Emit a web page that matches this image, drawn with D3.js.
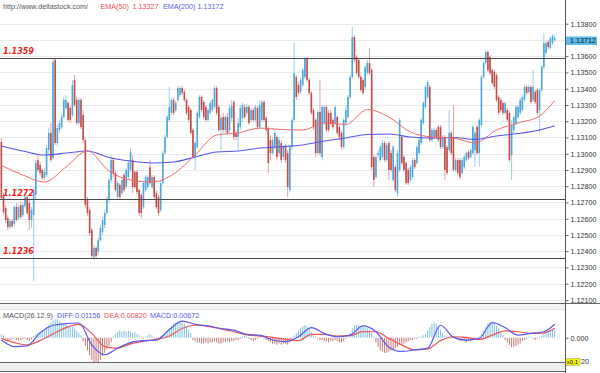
<!DOCTYPE html>
<html><head><meta charset="utf-8">
<script src="https://cdn.jsdelivr.net/npm/d3@7"></script>
<style>body{margin:0;background:#fff}svg{display:block}</style>
</head><body>
<svg id="c" width="600" height="373"></svg>
<script>
// [open, high, low, close]
const ohlc = [
[1.13072,1.13097,1.12715,1.12728],[1.12746,1.12758,1.12629,1.12641],[1.12666,1.12684,1.12574,1.12592],[1.12604,1.12623,1.12531,1.12549],
[1.12549,1.12598,1.12537,1.12586],[1.12586,1.12598,1.12543,1.12555],[1.12568,1.12684,1.12555,1.12672],[1.12672,1.12697,1.12580,1.12592],
[1.12604,1.12691,1.12592,1.12672],[1.12684,1.12709,1.12598,1.12611],[1.12623,1.12697,1.12611,1.12684],[1.12678,1.12752,1.12666,1.12734],
[1.12734,1.12746,1.12623,1.12635],[1.12697,1.12728,1.12531,1.12592],[1.12592,1.12672,1.12543,1.12654],[1.12623,1.12795,1.12217,1.12777],
[1.12746,1.12961,1.12715,1.12943],[1.12961,1.12992,1.12888,1.12900],[1.12931,1.12949,1.12863,1.12881],[1.12900,1.12912,1.12838,1.12851],
[1.12851,1.12912,1.12838,1.12888],[1.12869,1.13054,1.12857,1.13035],[1.13023,1.13158,1.12992,1.13128],[1.13128,1.13189,1.12949,1.12961],
[1.12974,1.13589,1.12961,1.13564],[1.13577,1.13589,1.13054,1.13066],[1.13066,1.13177,1.13048,1.13158],[1.13146,1.13208,1.13128,1.13189],
[1.13164,1.13244,1.13152,1.13226],[1.13226,1.13349,1.13214,1.13331],[1.13281,1.13361,1.13269,1.13331],[1.13312,1.13324,1.13195,1.13208],
[1.13281,1.13294,1.13189,1.13208],[1.13238,1.13454,1.13226,1.13423],[1.13454,1.13484,1.13288,1.13300],[1.13331,1.13349,1.13177,1.13189],
[1.13189,1.13343,1.13177,1.13331],[1.13331,1.13343,1.13152,1.13164],[1.13238,1.13269,1.13066,1.13084],[1.13084,1.13097,1.12666,1.12684],
[1.12715,1.12734,1.12617,1.12635],[1.12654,1.12672,1.12494,1.12512],[1.12531,1.12543,1.12358,1.12371],[1.12364,1.12438,1.12346,1.12420],
[1.12420,1.12432,1.12358,1.12371],[1.12395,1.12488,1.12377,1.12469],[1.12469,1.12561,1.12457,1.12543],[1.12518,1.12611,1.12500,1.12592],
[1.12561,1.12654,1.12543,1.12635],[1.12635,1.12740,1.12623,1.12715],[1.12715,1.12851,1.12697,1.12838],[1.12838,1.12992,1.12820,1.12961],
[1.12961,1.12980,1.12857,1.12881],[1.12881,1.12894,1.12764,1.12777],[1.12734,1.12832,1.12721,1.12820],[1.12808,1.12820,1.12721,1.12734],
[1.12758,1.12851,1.12746,1.12838],[1.12869,1.12881,1.12764,1.12777],[1.12795,1.12912,1.12783,1.12900],[1.12857,1.12961,1.12844,1.12943],
[1.12900,1.13035,1.12888,1.13011],[1.12961,1.12992,1.12758,1.12795],[1.12888,1.12900,1.12783,1.12795],[1.12888,1.12900,1.12752,1.12764],
[1.12777,1.12789,1.12617,1.12635],[1.12746,1.12758,1.12604,1.12635],[1.12672,1.12832,1.12660,1.12820],[1.12777,1.12869,1.12764,1.12857],
[1.12795,1.12869,1.12783,1.12857],[1.12918,1.12961,1.12808,1.12820],[1.12795,1.12869,1.12783,1.12857],[1.12857,1.12869,1.12721,1.12734],
[1.12758,1.12771,1.12660,1.12672],[1.12734,1.12746,1.12617,1.12635],[1.12654,1.12832,1.12641,1.12820],[1.12820,1.13017,1.12808,1.13004],
[1.13004,1.13115,1.12992,1.13103],[1.13103,1.13238,1.13091,1.13226],[1.13208,1.13411,1.13195,1.13288],[1.13251,1.13343,1.13238,1.13331],
[1.13331,1.13343,1.13238,1.13251],[1.13269,1.13324,1.13257,1.13312],[1.13331,1.13417,1.13318,1.13404],[1.13361,1.13417,1.13349,1.13404],
[1.13404,1.13417,1.13361,1.13374],[1.13380,1.13392,1.13318,1.13331],[1.13331,1.13343,1.13238,1.13251],[1.13288,1.13300,1.13195,1.13208],
[1.13269,1.13281,1.13115,1.13128],[1.13146,1.13158,1.12968,1.12980],[1.12980,1.13078,1.12900,1.13066],[1.13041,1.13263,1.13029,1.13251],
[1.13226,1.13361,1.13214,1.13349],[1.13349,1.13361,1.13257,1.13269],[1.13318,1.13331,1.13214,1.13226],[1.13288,1.13300,1.13195,1.13208],
[1.13208,1.13281,1.13195,1.13269],[1.13251,1.13324,1.13238,1.13312],[1.13269,1.13343,1.13257,1.13331],[1.13288,1.13417,1.13275,1.13404],
[1.13404,1.13417,1.13238,1.13251],[1.13288,1.13300,1.13134,1.13146],
[1.13146,1.13238,1.13023,1.13220],[1.13226,1.13251,1.13128,1.13146],[1.13146,1.13238,1.13128,1.13226],[1.13226,1.13251,1.13115,1.13128],
[1.13146,1.13300,1.13128,1.13281],[1.13220,1.13331,1.13195,1.13294],[1.13318,1.13331,1.13084,1.13103],[1.13128,1.13146,1.13084,1.13103],
[1.13103,1.13220,1.13023,1.13189],[1.13164,1.13300,1.13146,1.13281],[1.13220,1.13312,1.13195,1.13300],[1.13288,1.13306,1.13214,1.13226],
[1.13251,1.13306,1.13238,1.13288],[1.13288,1.13300,1.13177,1.13189],[1.13208,1.13281,1.13195,1.13269],[1.13269,1.13281,1.13195,1.13208],
[1.13208,1.13300,1.13195,1.13288],[1.13281,1.13294,1.13152,1.13164],[1.13164,1.13331,1.13152,1.13300],[1.13208,1.13331,1.13195,1.13318],
[1.13318,1.13331,1.13195,1.13208],[1.13220,1.13232,1.13134,1.13146],[1.13158,1.13171,1.12881,1.12943],[1.13084,1.13115,1.12961,1.13004],
[1.13004,1.13103,1.12992,1.13084],[1.13041,1.13146,1.13023,1.13128],[1.13103,1.13115,1.12961,1.12980],[1.13004,1.13103,1.12986,1.13084],
[1.13066,1.13084,1.12943,1.12961],[1.12980,1.13054,1.12961,1.13041],[1.13041,1.13060,1.12943,1.12961],[1.13004,1.13023,1.12734,1.12795],
[1.12777,1.13054,1.12764,1.13041],[1.13041,1.13220,1.13023,1.13208],[1.13208,1.13681,1.13195,1.13497],[1.13472,1.13484,1.13331,1.13349],
[1.13423,1.13441,1.13361,1.13374],[1.13380,1.13466,1.13368,1.13454],[1.13423,1.13528,1.13411,1.13515],[1.13472,1.13595,1.13460,1.13589],
[1.13589,1.13595,1.13441,1.13454],[1.13454,1.13466,1.13361,1.13374],[1.13374,1.13386,1.13238,1.13251],[1.13269,1.13281,1.13146,1.13164],
[1.13208,1.13220,1.12980,1.13004],[1.13004,1.13269,1.12992,1.13257],[1.13257,1.13454,1.12986,1.13004],[1.12980,1.13300,1.12961,1.13288],
[1.13189,1.13300,1.13177,1.13288],[1.13288,1.13300,1.13134,1.13146],[1.13251,1.13269,1.13134,1.13146],
[1.13251,1.13269,1.13177,1.13189],[1.13208,1.13220,1.13146,1.13164],[1.13189,1.13300,1.13177,1.13288],[1.13226,1.13238,1.13115,1.13128],
[1.13164,1.13177,1.13084,1.13103],[1.13128,1.13140,1.13023,1.13041],[1.13041,1.13220,1.13029,1.13208],[1.13189,1.13300,1.13177,1.13269],
[1.13226,1.13361,1.13214,1.13349],[1.13349,1.13484,1.13337,1.13472],[1.13472,1.13780,1.13460,1.13718],[1.13718,1.13731,1.13564,1.13577],
[1.13595,1.13608,1.13484,1.13497],[1.13577,1.13589,1.13460,1.13472],[1.13472,1.13484,1.13380,1.13392],[1.13454,1.13466,1.13361,1.13374],
[1.13411,1.13546,1.13398,1.13534],[1.13497,1.13577,1.13484,1.13558],[1.13558,1.13651,1.13484,1.13497],[1.13515,1.13528,1.12900,1.12918],
[1.12980,1.12992,1.12795,1.12838],[1.12857,1.12992,1.12844,1.12980],[1.12992,1.13023,1.12974,1.13004],[1.12961,1.13054,1.12949,1.13041],
[1.12980,1.13084,1.12968,1.13066],[1.13066,1.13078,1.12949,1.12961],[1.12961,1.13066,1.12949,1.13054],[1.13066,1.13078,1.12838,1.12900],
[1.13004,1.13023,1.12888,1.12900],[1.12838,1.13054,1.12826,1.13041],[1.12918,1.12931,1.12764,1.12777],[1.12758,1.13023,1.12734,1.13004],
[1.12900,1.13220,1.12888,1.13208],[1.13103,1.13115,1.12931,1.12943],[1.12980,1.12992,1.12888,1.12900],[1.12943,1.12955,1.12808,1.12820],
[1.12900,1.12912,1.12808,1.12820],[1.12838,1.12931,1.12826,1.12918],[1.12857,1.12974,1.12844,1.12961],[1.12961,1.12974,1.12906,1.12918],
[1.12943,1.13054,1.12931,1.13041],[1.13004,1.13097,1.12992,1.13084],[1.13066,1.13220,1.13054,1.13208],[1.13189,1.13324,1.13177,1.13312],
[1.13288,1.13423,1.13275,1.13411],[1.13349,1.13454,1.13337,1.13441],[1.13411,1.13423,1.13072,1.13084],[1.13084,1.13158,1.13072,1.13146],
[1.13103,1.13158,1.13091,1.13146],[1.13146,1.13158,1.13091,1.13103],[1.13164,1.13177,1.13072,1.13084],
[1.13164,1.13177,1.13029,1.13041],[1.13041,1.13115,1.13029,1.13103],[1.13103,1.13115,1.12838,1.12900],[1.13041,1.13054,1.12869,1.12881],
[1.13023,1.13269,1.13011,1.13128],[1.13128,1.13140,1.12992,1.13004],[1.13103,1.13300,1.12888,1.12900],[1.12900,1.12974,1.12888,1.12961],
[1.12961,1.12974,1.12869,1.12881],[1.12961,1.12974,1.12844,1.12857],[1.12881,1.12974,1.12869,1.12961],[1.12918,1.12992,1.12906,1.12980],
[1.12961,1.13017,1.12949,1.13004],[1.13011,1.13023,1.12961,1.12974],[1.12980,1.13035,1.12968,1.13023],[1.13004,1.13177,1.12992,1.13164],
[1.13023,1.13140,1.12918,1.13128],[1.13164,1.13177,1.12992,1.13004],[1.13004,1.13220,1.12918,1.13208],[1.13177,1.13484,1.13164,1.13472],
[1.13472,1.13571,1.13460,1.13558],[1.13558,1.13638,1.13546,1.13626],[1.13626,1.13638,1.13503,1.13515],[1.13595,1.13608,1.13484,1.13497],
[1.13515,1.13528,1.13423,1.13435],[1.13503,1.13515,1.13398,1.13411],[1.13484,1.13497,1.13318,1.13331],[1.13349,1.13361,1.13238,1.13251],
[1.13331,1.13343,1.13257,1.13269],[1.13312,1.13324,1.13238,1.13251],[1.13251,1.13324,1.13238,1.13312],[1.13269,1.13281,1.13195,1.13208],
[1.13251,1.13263,1.12949,1.12961],[1.12992,1.13208,1.12838,1.13177],[1.13146,1.13238,1.13128,1.13226],[1.13189,1.13300,1.13177,1.13288],
[1.13226,1.13300,1.13214,1.13288],[1.13251,1.13343,1.13238,1.13331],[1.13269,1.13361,1.13257,1.13349],[1.13331,1.13423,1.13318,1.13411],
[1.13411,1.13423,1.13361,1.13374],[1.13380,1.13423,1.13368,1.13411],[1.13411,1.13423,1.13306,1.13318],[1.13331,1.13515,1.13318,1.13411],
[1.13380,1.13392,1.13306,1.13318],[1.13392,1.13404,1.13238,1.13251],[1.13269,1.13404,1.13128,1.13392],[1.13392,1.13546,1.13380,1.13534],
[1.13534,1.13743,1.13521,1.13681],[1.13620,1.13694,1.13608,1.13681],[1.13688,1.13700,1.13644,1.13657],[1.13651,1.13724,1.13638,1.13712],
[1.13681,1.13737,1.13669,1.13724],[1.13700,1.13731,1.13688,1.13712]
];

// moving averages, read at these candle indices
const emaIdx = [0,10,20,30,40,50,60,70,80,90,100,110,120,130,140,150,160,170,180,190,200,210,220,230,240,250,257];
const ema50 = [1.12928,1.12869,1.12826,1.12918,1.13017,1.12894,1.12838,1.12826,1.12875,1.12992,1.13115,1.13128,1.13158,1.13149,1.13146,1.13189,1.13180,1.13272,1.13226,1.13134,1.13103,1.13097,1.13066,1.13146,1.13189,1.13232,1.13327];
const ema200 = [1.13048,1.13017,1.12992,1.13004,1.13017,1.12977,1.12955,1.12943,1.12949,1.12980,1.13011,1.13017,1.13035,1.13043,1.13054,1.13078,1.13097,1.13118,1.13121,1.13103,1.13097,1.13100,1.13088,1.13109,1.13124,1.13146,1.13172];

// MACD lines, read at these candle indices
const macdIdx = [0,6,12,18,24,30,36,42,48,54,60,66,72,78,84,90,96,102,108,114,120,126,132,138,144,150,156,162,168,174,180,186,192,198,204,210,216,222,228,234,240,246,252,257];
const diff = [-0.0020,-0.0076,-0.0070,0.0042,0.0107,0.0121,0.0126,-0.0062,-0.0146,-0.0090,-0.0042,-0.0025,-0.0020,0.0070,0.0143,0.0115,0.0101,0.0079,0.0065,0.0028,0.0022,-0.0020,-0.0034,0.0008,0.0087,0.0037,0.0008,0.0022,0.0101,0.0051,-0.0081,-0.0118,-0.0104,-0.0090,0.0107,0.0003,-0.0020,-0.0006,0.0129,0.0087,0.0022,0.0037,0.0051,0.01156];
const dea = [-0.0006,-0.0042,-0.0062,-0.0025,0.0031,0.0087,0.0115,0.0037,-0.0076,-0.0090,-0.0053,-0.0031,-0.0014,0.0014,0.0079,0.0107,0.0098,0.0076,0.0051,0.0025,0.0014,0.0003,-0.0014,-0.0025,0.0028,0.0028,0.0014,0.0017,0.0053,0.0051,-0.0006,-0.0062,-0.0104,-0.0096,-0.0025,0.0008,0.0003,-0.0014,0.0022,0.0059,0.0051,0.0037,0.0042,0.0082];
// MACD histogram, one per candle
const hist = [
.003,.002,
-.001,-.0015,-.002,-.0015,-.001,-.002,-.0025,-.002,-.0015,-.001,-.002,-.003,-.0015,
.0015,.003,.004,.005,.006,.007,.009,.011,.013,.015,.016,.016,.014,.013,.012,.011,.010,.009,.009,.008,.006,.004,.002,
-.003,-.007,-.011,-.015,-.019,-.021,-.022,-.021,-.019,-.016,-.013,-.010,-.007,-.004,
.001,.003,.005,.006,.005,.006,.005,.006,.005,.004,.005,.003,.002,.001,
-.001,.001,.002,.003,.002,-.001,-.002,-.001,.001,.002,.003,
.005,.008,.010,.012,.013,.014,.014,.013,.012,.010,.007,.004,
-.002,-.003,-.004,-.004,-.005,-.005,-.004,-.005,-.004,-.004,-.003,-.004,-.005,-.005,-.004,-.004,-.003,-.004,-.003,-.003,-.002,-.002,-.001,
.001,.002,.001,-.001,-.002,-.003,-.002,-.001,.001,.001,-.001,-.002,-.003,
-.004,-.005,-.005,-.006,-.005,-.006,-.005,-.005,-.006,-.004,-.002,.002,.004,
.006,.008,.010,.011,.010,.008,.005,.003,.001,
-.001,-.002,-.002,-.003,-.003,-.004,-.003,-.003,-.002,-.003,-.004,-.004,-.003,-.001,
.002,.004,.008,.011,.011,.011,.010,.009,.009,.008,.007,.004,.001,
-.004,-.008,-.011,-.012,-.013,-.013,-.012,-.011,-.010,-.009,-.008,-.006,-.006,-.005,-.004,-.003,-.002,-.002,
-.001,-.001,.001,.001,.002,.003,
.006,.009,.012,.013,.012,.010,.007,.004,
.002,.001,.001,-.001,.001,-.001,-.002,-.003,-.003,-.003,-.004,-.003,-.003,-.002,-.001,-.001,.001,.003,
.006,.009,.012,.013,.013,.012,.010,.008,.005,.002,
-.002,-.004,-.006,-.008,-.008,-.007,-.006,-.005,-.003,-.002,
-.001,.001,.001,-.001,-.002,-.001,.001,.002,
.004,.005,.006,.006,.007,.00672
];

const levels = [1.1359, 1.1272, 1.1236];
const priceTicks = [1.138,1.137,1.136,1.135,1.134,1.133,1.132,1.131,1.130,1.129,1.128,1.127,1.126,1.125,1.124,1.123,1.122,1.121];
const macdTicks = [0, -0.02];

const FONT = "'Liberation Sans', Arial, sans-serif";
const svg = d3.select('#c');
const N = ohlc.length;
const x = d3.scaleBand().domain(d3.range(N)).range([0, 556]).padding(0.26);
const xc = i => x(i) + x.bandwidth() / 2;
const y = d3.scaleLinear().domain([1.121, 1.138]).range([300, 23.7]);
const ym = d3.scaleLinear().domain([-0.02, 0]).range([361, 337.7]);
const f5 = d3.format('.5f');

// gridlines
svg.append('g').selectAll('line').data(priceTicks).join('line')
  .attr('x1', 0).attr('x2', 565).attr('y1', d => Math.round(y(d)) + 0.5).attr('y2', d => Math.round(y(d)) + 0.5)
  .attr('stroke', '#ebebeb').attr('stroke-width', 1);

// panel separators
svg.append('rect').attr('x', 0).attr('y', 304).attr('width', 565).attr('height', 5).attr('fill', '#f3f3f3');
svg.append('line').attr('x1', 0).attr('x2', 600).attr('y1', 303.5).attr('y2', 303.5).attr('stroke', '#666');
svg.append('line').attr('x1', 0).attr('x2', 565).attr('y1', 309.5).attr('y2', 309.5).attr('stroke', '#e2e2e2');
svg.append('rect').attr('x', 0).attr('y', 363).attr('width', 565).attr('height', 8).attr('fill', '#f0f0f0');
svg.append('line').attr('x1', 0).attr('x2', 565).attr('y1', 362.5).attr('y2', 362.5).attr('stroke', '#666');
svg.append('line').attr('x1', 0).attr('x2', 565).attr('y1', 371.5).attr('y2', 371.5).attr('stroke', '#666');

// candles
const up = d => d[3] >= d[0];
const cg = svg.append('g');
cg.selectAll('line').data(ohlc).join('line')
  .attr('x1', (d, i) => xc(i)).attr('x2', (d, i) => xc(i))
  .attr('y1', d => y(d[1])).attr('y2', d => y(d[2]))
  .attr('stroke', d => up(d) ? '#9ccfee' : '#e3a3a3').attr('stroke-width', 1);
cg.selectAll('rect').data(ohlc).join('rect')
  .attr('x', (d, i) => x(i)).attr('width', x.bandwidth())
  .attr('y', d => y(Math.max(d[0], d[3])))
  .attr('height', d => Math.max(1, Math.abs(y(d[0]) - y(d[3]))))
  .attr('fill', d => up(d) ? '#4ba6da' : '#c24b48');

// EMA lines
const emaLine = d3.line().x((d, k) => xc(emaIdx[k])).y(d => y(d)).curve(d3.curveMonotoneX);
svg.append('path').attr('d', emaLine(ema200)).attr('fill', 'none').attr('stroke', '#5555ee').attr('stroke-width', 1.1);
svg.append('path').attr('d', emaLine(ema50)).attr('fill', 'none').attr('stroke', '#f26a6a').attr('stroke-width', 1);

// levels
const lg = svg.append('g');
lg.selectAll('line').data(levels).join('line')
  .attr('x1', 0).attr('x2', 565).attr('y1', d => Math.round(y(d)) + 0.5).attr('y2', d => Math.round(y(d)) + 0.5)
  .attr('stroke', '#4a4a4a').attr('stroke-width', 1);
lg.selectAll('text').data(levels).join('text')
  .attr('x', 3).attr('y', d => y(d) - 3.5)
  .attr('font-family', "'DejaVu Sans', sans-serif").attr('font-size', 8).attr('font-weight', 'bold').attr('font-style', 'italic')
  .attr('fill', '#ee1c1c').text(d => d3.format('.4f')(d));

// MACD
svg.append('clipPath').attr('id', 'mclip').append('rect').attr('x', 0).attr('y', 310).attr('width', 565).attr('height', 52.5);
const mg = svg.append('g').attr('clip-path', 'url(#mclip)');
mg.selectAll('line').data(hist).join('line')
  .attr('x1', (d, i) => xc(i)).attr('x2', (d, i) => xc(i))
  .attr('y1', ym(0)).attr('y2', d => ym(d))
  .attr('stroke', d => d >= 0 ? '#7fc0e3' : '#c57a76').attr('stroke-width', 1);
const mLine = d3.line().x((d, k) => xc(macdIdx[k])).y(d => ym(d)).curve(d3.curveMonotoneX);
mg.append('path').attr('d', mLine(dea)).attr('fill', 'none').attr('stroke', '#f05555').attr('stroke-width', 1.2);
mg.append('path').attr('d', mLine(diff)).attr('fill', 'none').attr('stroke', '#5a5af0').attr('stroke-width', 1.2);

// right axis
svg.append('line').attr('x1', 565.5).attr('x2', 565.5).attr('y1', 0).attr('y2', 373).attr('stroke', '#555');
const ax = svg.append('g').attr('transform', 'translate(565.5,0)')
  .call(d3.axisRight(y).tickValues(priceTicks).tickSize(3).tickPadding(2).tickFormat(f5));
// lower MACD label: only its tail shows beside the scale box, as in the source
const axm = svg.append('g').attr('transform', 'translate(565.5,0)')
  .call(d3.axisRight(ym).tickValues(macdTicks).tickSize(3).tickPadding(2)
    .tickFormat(d => d < 0 ? d3.format('.3f')(d).slice(-2) : d3.format('.3f')(d)));
[ax, axm].forEach(g => {
  g.select('.domain').remove();
  g.selectAll('line').attr('stroke', '#666');
  g.selectAll('text').attr('font-family', FONT).attr('font-size', 7.2).attr('fill', '#333');
});
axm.selectAll('.tick').filter(d => d < 0).select('text').attr('x', 15.5);

// current price box
const last = ohlc[N - 1][3];
svg.append('rect').attr('x', 566).attr('y', y(last) - 1.5).attr('width', 31).attr('height', 8.5).attr('fill', '#5cbce9');
svg.append('text').attr('x', 570).attr('y', y(last) + 5.3).attr('font-family', FONT).attr('font-size', 7.2).attr('fill', '#111').text(f5(last));

// x0.1 box
svg.append('rect').attr('x', 566).attr('y', 358.5).attr('width', 14).attr('height', 7).attr('fill', '#f5f500').attr('stroke', '#999').attr('stroke-width', 0.5);
svg.append('text').attr('x', 566.8).attr('y', 364.2).attr('font-family', FONT).attr('font-size', 6).attr('fill', '#111').text('x0.1');

// header
const header = [
  { t: 'http://www.deltastock.com/', x: 3, c: '#555' },
  { t: 'EMA(50)', x: 100.5, c: '#f04a55' },
  { t: f5(ema50[ema50.length - 1]), x: 132.5, c: '#f04a55' },
  { t: 'EMA(200)', x: 163, c: '#5a5ae8' },
  { t: f5(ema200[ema200.length - 1]), x: 197.5, c: '#5a5ae8' }
];
svg.append('g').selectAll('text').data(header).join('text')
  .attr('x', d => d.x).attr('y', 8.6).attr('font-family', FONT).attr('font-size', 7.2)
  .attr('fill', d => d.c).text(d => d.t);

const mhead = [
  { t: 'MACD(26.12.9)', x: 3, c: '#555' },
  { t: 'DIFF:' + f5(diff[diff.length - 1]), x: 57, c: '#5a5ae8' },
  { t: 'DEA:' + f5(dea[dea.length - 1]), x: 104, c: '#f04a55' },
  { t: 'MACD:' + f5(hist[hist.length - 1]), x: 150, c: '#5a5ae8' }
];
svg.append('g').selectAll('text').data(mhead).join('text')
  .attr('x', d => d.x).attr('y', 317.6).attr('font-family', FONT).attr('font-size', 7.2)
  .attr('fill', d => d.c).text(d => d.t);
</script>
</body></html>
